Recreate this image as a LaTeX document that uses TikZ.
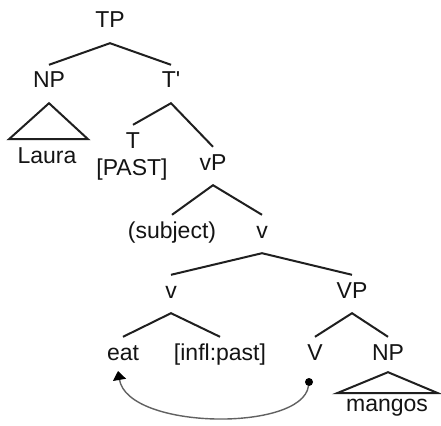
\documentclass[tikz,border=0pt]{standalone}
\usepackage{fontspec}
\setmainfont{Liberation Sans}
\usetikzlibrary{arrows.meta}
\begin{document}
\begin{tikzpicture}[x=1pt,y=-1pt,
  lab/.style={anchor=base,font=\fontsize{23}{26}\selectfont,text height=12pt,text depth=4pt,inner ysep=11pt,inner xsep=1pt,text=black!92},
  br/.style={line width=2pt,draw=black!88},
  tri/.style={line width=2pt,draw=black!88},
  mv/.style={line width=1.4pt,draw=black!62,-{Triangle[length=9pt,width=13pt,black]}}]
\useasboundingbox[fill=white] (0,0) rectangle (441,425);
% labels
\node[lab] (TP) at (110,28) {TP};
\node[lab] (NP1) at (49,88) {NP};
\node[lab] (Tbar) at (171,88) {T\textquotesingle};
\node[lab] (Laura) at (47,163) {Laura};
\node[lab] (T) at (133,148) {T};
\node[lab] (PAST) at (132,175) {[PAST]};
\node[lab] (vP) at (213,170) {vP};
\node[lab] (subj) at (172,238) {(subject)};
\node[lab] (vbar) at (262,238) {v};
\node[lab] (v) at (171,298) {v};
\node[lab] (VP) at (352,298) {VP};
\node[lab] (eat) at (123,360) {eat};
\node[lab] (infl) at (220,360) {[infl:past]};
\node[lab] (V) at (315,360) {V};
\node[lab] (NP2) at (388,360) {NP};
\node[lab] (mangos) at (387,411) {mangos};
% branches
\draw[br] (NP1.north) -- (TP.south) -- (Tbar.north);
\draw[br] (T.north) -- (Tbar.south) -- (vP.north);
\draw[br] (subj.north) -- (vP.south) -- (vbar.north);
\draw[br] (v.north) -- (vbar.south) -- (VP.north);
\draw[br] (eat.north) -- (v.south) -- (infl.north);
\draw[br] (V.north) -- (VP.south) -- (NP2.north);
% triangles
\draw[tri] (NP1.south) -- ++(-40,36) -- ++(79,0) -- cycle;
\draw[tri] (NP2.south) ++(0,-3) -- ++(-51,21) -- ++(101,0) -- cycle;
% movement arrow
\node[circle,fill=black,inner sep=0pt,minimum size=8pt] (vdot) at (309,382) {};
\coordinate (etip) at (118,371);
\draw[mv] (vdot) .. controls (302,432) and (128,430) .. (etip);
\end{tikzpicture}
\end{document}
